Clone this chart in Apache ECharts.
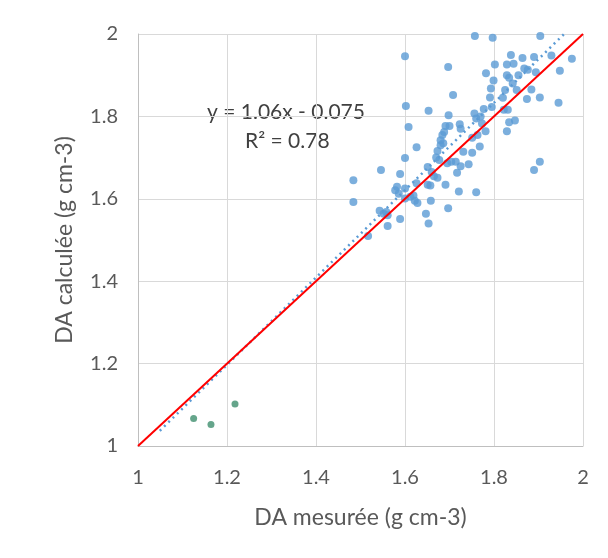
<!DOCTYPE html>
<html><head><meta charset="utf-8">
<script src="https://cdn.jsdelivr.net/npm/echarts@6/dist/echarts.min.js"></script>
<style>html,body{margin:0;padding:0;background:#fff}#c{width:608px;height:558px}</style>
</head><body><div id="c"></div>
<script>
const xTicks = [1, 1.2, 1.4, 1.6, 1.8, 2];
const yTicks = [1, 1.2, 1.4, 1.6, 1.8, 2];
const blueX = [1.757,1.797,1.904,1.600,1.838,1.864,1.890,1.929,1.975,1.697,1.844,1.829,1.868,1.876,1.894,1.948,1.782,1.802,1.829,1.834,1.799,1.793,1.825,1.851,1.884,1.903,1.874,1.791,1.708,1.602,1.653,1.945,1.822,1.831,1.795,1.777,1.756,1.698,1.847,1.834,1.829,1.773,1.723,1.700,1.691,1.608,1.684,1.781,1.763,1.751,1.680,1.768,1.626,1.673,1.731,1.751,1.600,1.677,1.695,1.704,1.903,1.890,1.743,1.725,1.651,1.546,1.717,1.589,1.665,1.673,1.484,1.626,1.651,1.657,1.691,1.582,1.578,1.721,1.760,1.586,1.619,1.600,1.622,1.628,1.658,1.484,1.697,1.543,1.552,1.561,1.647,1.589,1.653,1.561,1.517,1.688,1.686,1.760,1.770,1.820,1.842,1.855,1.725,1.714,1.670,1.680,1.660,1.558,1.600,1.612];
const blueY = [1.995,1.991,1.995,1.946,1.949,1.942,1.944,1.948,1.940,1.920,1.928,1.926,1.916,1.913,1.907,1.911,1.905,1.926,1.900,1.894,1.887,1.868,1.864,1.864,1.865,1.846,1.842,1.846,1.852,1.825,1.814,1.833,1.816,1.816,1.823,1.818,1.807,1.803,1.790,1.786,1.764,1.783,1.781,1.777,1.777,1.774,1.755,1.764,1.755,1.748,1.742,1.727,1.725,1.716,1.714,1.712,1.699,1.694,1.686,1.690,1.690,1.670,1.684,1.679,1.677,1.670,1.663,1.660,1.655,1.651,1.645,1.638,1.634,1.632,1.634,1.629,1.621,1.618,1.616,1.612,1.608,1.601,1.595,1.590,1.595,1.592,1.577,1.571,1.564,1.560,1.564,1.551,1.540,1.534,1.510,1.762,1.735,1.795,1.800,1.845,1.880,1.900,1.770,1.690,1.700,1.730,1.665,1.568,1.625,1.605];
const greenX = [1.125, 1.164, 1.218];
const greenY = [1.067, 1.052, 1.102];
const trendSlope = 1.06, trendIntercept = -0.075;
const trendRange = [1.049, 1.962];
const identityLine = [[1, 1], [2, 2]];

const blue = blueX.map((x, i) => [x, blueY[i]]);
const green = greenX.map((x, i) => [x, greenY[i]]);
const trend = trendRange.map(x => [x, trendSlope * x + trendIntercept]);
const font = 'Lato, "Open Sans", sans-serif';
const chart = echarts.init(document.getElementById('c'));
chart.setOption({
  animation: false,
  backgroundColor: '#fff',
  grid: { left: 138, right: 25, top: 34, bottom: 112 },
  xAxis: {
    type: 'value', min: 1, max: 2, interval: 0.2,
    name: 'DA mesurée (g cm-3)', nameLocation: 'middle', nameGap: 60,
    nameTextStyle: { fontSize: 23, color: '#595959', fontFamily: font },
    axisLine: { show: true, lineStyle: { color: '#bfbfbf' } },
    axisTick: { show: false },
    splitLine: { lineStyle: { color: '#d9d9d9' } },
    axisLabel: { fontSize: 20, color: '#595959', fontFamily: font, margin: 22,
      formatter: v => String(+v.toFixed(1)) }
  },
  yAxis: {
    type: 'value', min: 1, max: 2, interval: 0.2,
    name: 'DA calculée (g cm-3)', nameLocation: 'middle', nameGap: 62, nameRotate: 90,
    nameTextStyle: { fontSize: 23, color: '#595959', fontFamily: font },
    axisLine: { show: true, lineStyle: { color: '#bfbfbf' } },
    axisTick: { show: false },
    splitLine: { lineStyle: { color: '#d9d9d9' } },
    axisLabel: { fontSize: 20, color: '#595959', fontFamily: font, margin: 20,
      formatter: v => String(+v.toFixed(1)) }
  },
  series: [
    { type: 'scatter', data: blue, symbolSize: 8, itemStyle: { color: '#5b9bd5' }, z: 3 },
    { type: 'scatter', data: green, symbolSize: 7, itemStyle: { color: '#3f8f6e' }, z: 3 },
    { type: 'line', data: trend, symbol: 'none', z: 4,
      lineStyle: { color: '#5b9bd5', width: 2.5, type: [2, 4] } },
    { type: 'line', data: identityLine, symbol: 'none', z: 5,
      lineStyle: { color: '#ff0000', width: 2 } }
  ],
  graphic: [
    { type: 'text', left: 207, top: 102, style: { text: 'y = 1.06x - 0.075', fontSize: 21, fill: '#404040', fontFamily: font } },
    { type: 'text', left: 245, top: 131, style: { text: 'R² = 0.78', fontSize: 21, fill: '#404040', fontFamily: font } }
  ]
});
</script></body></html>
